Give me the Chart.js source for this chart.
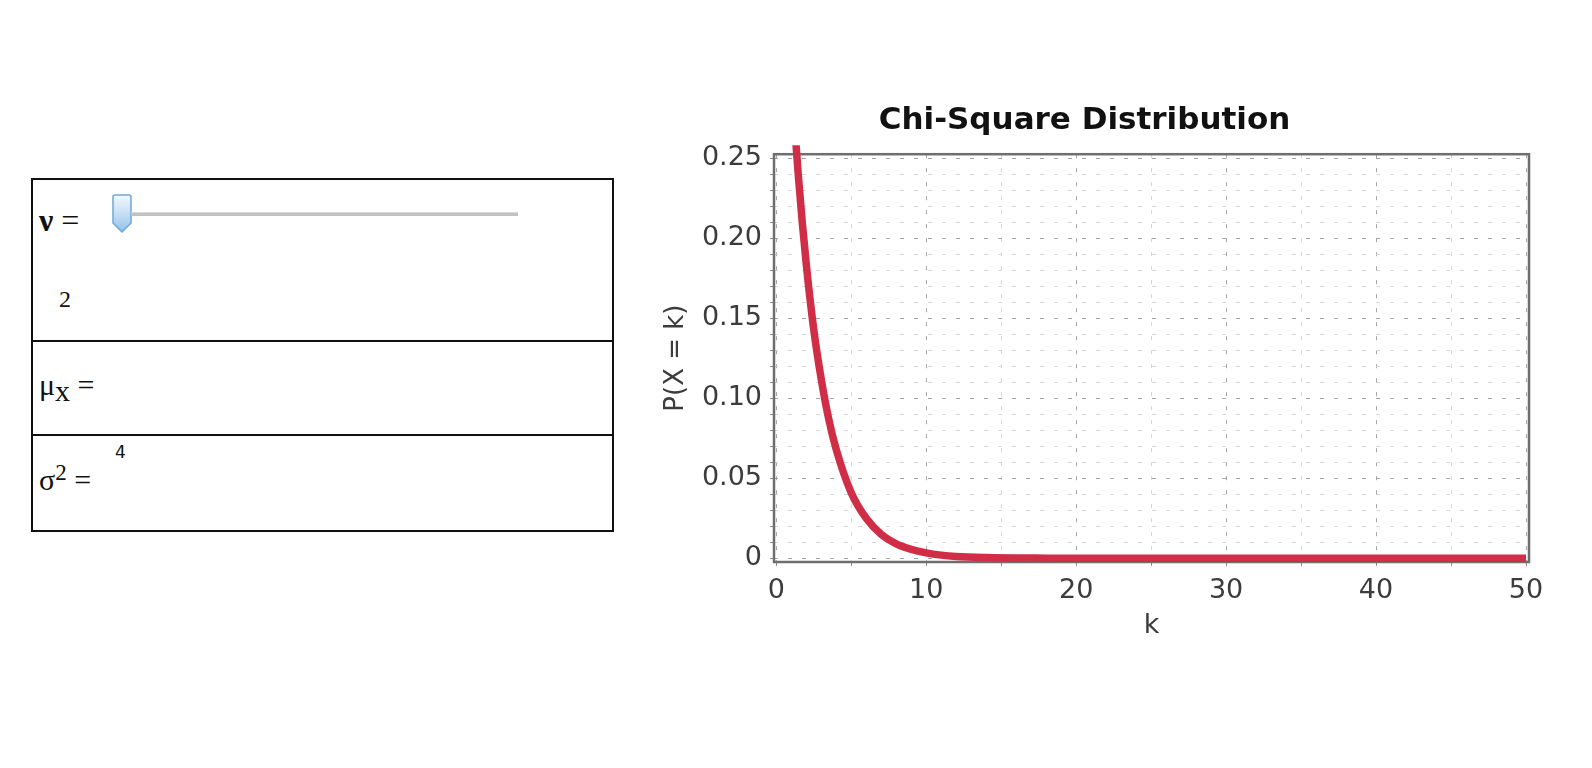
<!DOCTYPE html>
<html>
<head>
<meta charset="utf-8">
<script src="https://cdn.jsdelivr.net/npm/chart.js@4.4.1/dist/chart.umd.min.js"></script>
<style>
  html, body { margin: 0; padding: 0; background: #fff; }
  body { width: 1592px; height: 768px; position: relative; overflow: hidden; font-family: "Liberation Serif", serif; }
  #panel { position: absolute; left: 31px; top: 178px; width: 583px; border: 2px solid #111; box-sizing: border-box; }
  .row { position: relative; border-bottom: 2px solid #111; box-sizing: border-box; }
  .row:last-child { border-bottom: none; }
  .lbl { position: absolute; left: 6px; font-size: 30px; color: #111; white-space: nowrap; }
  .small { position: absolute; font-family: "DejaVu Sans", sans-serif; font-size: 17px; color: #111; }
  #track { position: absolute; left: 98px; top: 32px; width: 387px; height: 3px; background: #c2c2c2; border-top: 1px solid #d8d8d8; }
  #thumb { position: absolute; left: 78px; top: 14px; }
  #wrap { position: absolute; left: 640px; top: 80px; width: 922px; height: 580px; }
</style>
</head>
<body>
<div id="panel">
  <div class="row" style="height:162px">
    <div class="lbl" style="top:22px;font-size:32px"><span style="font-weight:bold">&nu;</span> =</div>
    <svg id="thumb" width="22" height="40" viewBox="0 0 22 40">
      <defs>
        <linearGradient id="tg" x1="0" y1="0" x2="0" y2="1">
          <stop offset="0" stop-color="#f4f9fe"/>
          <stop offset="0.6" stop-color="#bcd9f3"/>
          <stop offset="1" stop-color="#8fc0ea"/>
        </linearGradient>
      </defs>
      <path d="M2,3 Q2,1 4,1 L18,1 Q20,1 20,3 L20,29 L11,38 L2,29 Z" fill="url(#tg)" stroke="#6fa6d6" stroke-width="1.5"/>
    </svg>
    <div id="track"></div>
    <div class="lbl" style="top:106px;left:26px;font-size:24px">2</div>
  </div>
  <div class="row" style="height:94px">
    <div class="lbl" style="top:26px">&mu;<sub style="font-size:30px;vertical-align:-6px">x</sub> =</div>
  </div>
  <div class="row" style="height:94px">
    <div class="lbl" style="top:24px">&sigma;<sup style="font-size:23px;vertical-align:10px">2</sup> =</div>
    <div class="small" style="left:82px;top:6px">4</div>
  </div>
</div>

<div id="wrap"><canvas id="Graf" width="922" height="580"></canvas></div>

<script>
// density values
var kVaerdier = [0, 0.5, 1, 1.5, 2, 2.5, 3, 3.5, 4, 5, 6, 7, 8, 9, 10, 11, 12, 14, 16, 18, 20, 25, 30, 40, 50];
var pVaerdier = [0.5, 0.389, 0.303, 0.236, 0.184, 0.143, 0.112, 0.087, 0.068, 0.041, 0.025, 0.015, 0.009, 0.0056, 0.0034, 0.002, 0.0012, 0.0005, 0.0002, 0.0001, 0.00002, 0, 0, 0, 0];

var xHovedTicks = [0, 10, 20, 30, 40, 50];
var yHovedTicks = [0, 0.05, 0.10, 0.15, 0.20, 0.25];
var xMellemTrin = 5;
var yMellemTrin = 0.01;

var graf;

function ErHoved(liste, v) {
    return liste.some(function (t) { return Math.abs(t - v) < 1e-9; });
}

function LavTicks(liste, trin) {
    var ud = [];
    var slut = liste[liste.length - 1];
    for (var i = 0; liste[0] + i * trin <= slut + 1e-9; i++) {
        ud.push({ value: +(liste[0] + i * trin).toFixed(4) });
    }
    return ud;
}

var rammePlugin = {
    id: 'ramme',
    beforeDatasetsDraw: function (chart) {
        var a = chart.chartArea;
        var ctx = chart.ctx;
        ctx.save();
        ctx.strokeStyle = '#6e6e6e';
        ctx.lineWidth = 2.5;
        ctx.strokeRect(a.left, a.top, a.right - a.left, a.bottom - a.top);
        ctx.restore();
    }
};

function CreateChart() {
    var punkter = kVaerdier.map(function (k, i) { return { x: k, y: pVaerdier[i] }; });

    graf = new Chart("Graf", {
        type: "line",
        data: {
            datasets: [{
                data: punkter,
                borderColor: "rgb(207,46,70)",
                borderWidth: 7.5,
                pointRadius: 0,
                pointHoverRadius: 0,
                fill: false,
                cubicInterpolationMode: 'monotone',
                clip: { left: 0, top: 9, right: 0, bottom: 6 }
            }]
        },
        plugins: [rammePlugin],
        options: {
            responsive: false,
            animation: false,
            devicePixelRatio: 1,
            layout: { padding: { left: 0, right: 33, top: 0, bottom: 0 } },
            plugins: {
                legend: { display: false },
                tooltip: { enabled: false },
                title: {
                    display: true,
                    text: "Chi-Square Distribution",
                    color: "#111",
                    font: { family: "DejaVu Sans", size: 31, weight: "bold" },
                    padding: { top: 22, bottom: 15 }
                }
            },
            scales: {
                x: {
                    type: 'linear',
                    min: -0.15,
                    max: 50.2,
                    afterBuildTicks: function (akse) { akse.ticks = LavTicks(xHovedTicks, xMellemTrin); },
                    afterFit: function (akse) { akse.height = 98; },
                    ticks: {
                        autoSkip: false,
                        maxRotation: 0,
                        padding: 9,
                        color: "#3c3c3c",
                        font: { family: "DejaVu Sans", size: 27 },
                        callback: function (v) { return ErHoved(xHovedTicks, v) ? String(v) : ''; }
                    },
                    grid: {
                        color: function (c) { return c.tick && ErHoved(xHovedTicks, c.tick.value) ? '#a4a4a4' : '#d6d6d6'; },
                        lineWidth: 1,
                        tickLength: 4,
                        tickColor: '#8a8a8a',
                        tickBorderDash: []
                    },
                    border: { display: false, dash: [4, 10] },
                    title: {
                        display: true,
                        text: "k",
                        color: "#3c3c3c",
                        font: { family: "DejaVu Sans", size: 27 },
                        padding: { top: 0, bottom: 18 }
                    }
                },
                y: {
                    type: 'linear',
                    min: -0.0023,
                    max: 0.2525,
                    afterBuildTicks: function (akse) { akse.ticks = LavTicks(yHovedTicks, yMellemTrin); },
                    afterFit: function (akse) { akse.width = 134; },
                    ticks: {
                        autoSkip: false,
                        padding: 8,
                        color: "#3c3c3c",
                        font: { family: "DejaVu Sans", size: 27 },
                        callback: function (v) {
                            if (!ErHoved(yHovedTicks, v)) return '';
                            return v === 0 ? '0' : v.toFixed(2);
                        }
                    },
                    grid: {
                        color: function (c) { return c.tick && ErHoved(yHovedTicks, c.tick.value) ? '#a4a4a4' : '#d6d6d6'; },
                        lineWidth: 1,
                        tickLength: 4,
                        tickColor: '#8a8a8a',
                        tickBorderDash: []
                    },
                    border: { display: false, dash: [4, 10] },
                    title: {
                        display: true,
                        text: "P(X = k)",
                        color: "#3c3c3c",
                        font: { family: "DejaVu Sans", size: 26 },
                        padding: { top: 21, bottom: 0 }
                    }
                }
            }
        }
    });
}

CreateChart();
</script>
</body>
</html>
